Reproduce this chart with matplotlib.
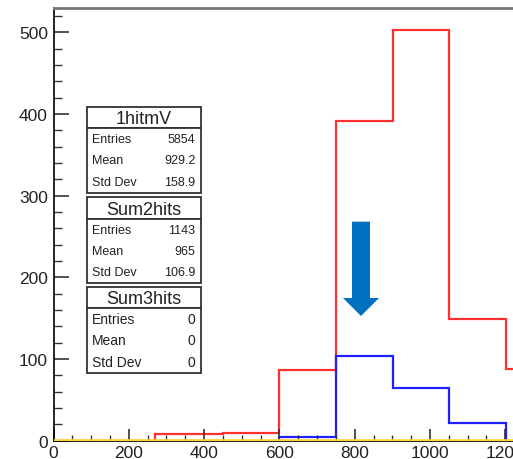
import matplotlib
matplotlib.use("Agg")
import matplotlib.pyplot as plt
from matplotlib.patches import Rectangle, FancyArrow
from matplotlib.ticker import MultipleLocator

plt.rcParams['font.family'] = ['Liberation Sans', 'DejaVu Sans']

# bin edges (mV) and counts per bin
edges = [0, 270, 450, 600, 750, 903, 1050, 1203, 1300]
hit1_counts = [0, 8, 9, 86, 391, 503, 149, 88]
sum2_counts = [0, 0, 0, 5, 104, 64, 22, 0]
sum3_counts = [0, 0, 0, 0, 0, 0, 0, 0]

stat_names = ["1hitmV", "Sum2hits", "Sum3hits"]
stat_entries = ["5854", "1143", "0"]
stat_means = ["929.2", "965", "0"]
stat_stds = ["158.9", "106.9", "0"]

W, H = 513, 460
fig = plt.figure(figsize=(W / 100, H / 100), dpi=100)

# axis frame in pixels: x=0 at 53.5, y=0 at 441.7, 0.3765 px per mV, 0.817 px per count
x0, y0 = 53.5, 441.7
xmax, ymax = 1300, 530
ax = fig.add_axes([x0 / W, (H - y0) / H, xmax * 0.3765 / W, ymax * 0.817 / H])
ax.set_xlim(0, xmax)
ax.set_ylim(0, ymax)

ax.stairs(hit1_counts, edges, color="#ff3030", lw=1.6, baseline=None)
ax.stairs(sum2_counts, edges, color="#2020ff", lw=1.6, baseline=None)
ax.stairs(sum3_counts, edges, color="#ffd633", lw=2.6, baseline=None, zorder=5)

ax.spines['right'].set_visible(False)
ax.spines['top'].set_color("#777777")
ax.spines['top'].set_linewidth(2)
ax.spines['left'].set_linewidth(1.2)
ax.spines['bottom'].set_linewidth(1.2)

ax.xaxis.set_major_locator(MultipleLocator(200))
ax.xaxis.set_minor_locator(MultipleLocator(50))
ax.yaxis.set_major_locator(MultipleLocator(100))
ax.yaxis.set_minor_locator(MultipleLocator(20))
ax.tick_params(axis='x', which='major', direction='in', length=9, width=1.2,
               labelsize=12.5, pad=3, color="#333333")
ax.tick_params(axis='x', which='minor', direction='in', length=4.5, width=1.0, color="#333333")
ax.tick_params(axis='y', which='major', direction='in', length=11, width=1.2,
               labelsize=12.5, pad=4, color="#333333")
ax.tick_params(axis='y', which='minor', direction='in', length=5.5, width=1.0, color="#333333")
ax.tick_params(labelcolor="#222222")


def px(x, y):
    return x / W, 1 - y / H


def stat_box(top, sep, bottom, name, entries, mean, std, fs_title, fs_row):
    left, right = 86.7, 201.3
    for t, b in [(top, sep), (sep, bottom)]:
        xa, ya = px(left, b)
        fig.add_artist(Rectangle((xa, ya), (right - left) / W, (b - t) / H,
                                 transform=fig.transFigure, fill=True, fc="white",
                                 ec="#333333", lw=1.3, zorder=10))
    fig.text(*px((left + right) / 2, (top + sep) / 2 + 1), name, ha="center", va="center",
             fontsize=fs_title, color="#222222", zorder=11)
    step = (bottom - sep) / 3
    for i, (lab, val) in enumerate([("Entries", entries), ("Mean", mean), ("Std Dev", std)]):
        yc = sep + step * (i + 0.5)
        fig.text(*px(left + 5, yc), lab, ha="left", va="center", fontsize=fs_row,
                 color="#222222", zorder=11)
        fig.text(*px(right - 6, yc), val, ha="right", va="center", fontsize=fs_row,
                 color="#222222", zorder=11)


stat_box(107.7, 129, 194, stat_names[0], stat_entries[0], stat_means[0], stat_stds[0], 13, 9)
stat_box(198.3, 220, 284, stat_names[1], stat_entries[1], stat_means[1], stat_stds[1], 13, 9)
stat_box(287.7, 309, 374, stat_names[2], stat_entries[2], stat_means[2], stat_stds[2], 13, 10)

# marker arrow pointing at the two-hit peak
ax_x, ay = px(361, 222.7)
_, ay_tip = px(361, 317)
fig.add_artist(FancyArrow(ax_x, ay, 0, ay_tip - ay, width=18 / W, head_width=36 / W,
                          head_length=18 / H, length_includes_head=True,
                          transform=fig.transFigure, color="#0070c0", lw=0, zorder=12))

fig.savefig("out.png", dpi=100)
